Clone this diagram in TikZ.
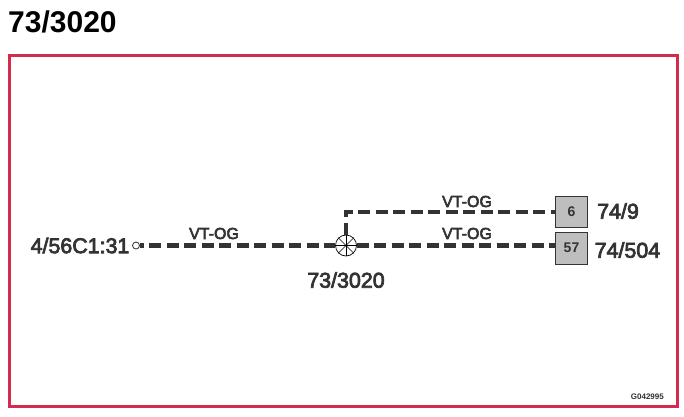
\documentclass[tikz,border=0pt]{standalone}
\usepackage{fontspec}
\setmainfont{Liberation Sans}
\newfontfamily\heavyfont[FakeBold=3.5]{Liberation Sans}
\usepackage{xcolor}
\usetikzlibrary{positioning}
\definecolor{framered}{HTML}{D22B50}
\definecolor{ink}{HTML}{333333}
\definecolor{boxgrey}{HTML}{BEBEBE}
\tikzset{
    wire/.style={ink, line width=4.5pt, dash pattern=on 12pt off 5.5pt},
    pinbox/.style={draw=ink, line width=1pt, fill=boxgrey, minimum width=32pt, minimum height=31pt, inner sep=0pt, font=\fontsize{14}{14}\selectfont\bfseries, text=ink},
    reflabel/.style={font=\fontsize{21.4}{21.4}\heavyfont, text=ink, inner sep=0pt},
    wirelabel/.style={font=\fontsize{16}{16}\heavyfont, text=ink, inner sep=0pt}
}
\begin{document}
\begin{tikzpicture}[x=1pt, y=1pt]
            \useasboundingbox (0,0) rectangle (684,-416);
            \fill[white] (0,0) rectangle (684,-416);

            \node[anchor=west, inner sep=0pt, font=\fontsize{30}{30}\selectfont\bfseries] (title) at (8,-22) {73/3020};
            \draw[framered, line width=3pt] (9,-55) rectangle (677,-406);

            \node[circle, draw=ink, line width=0.8pt, minimum size=7pt, inner sep=0pt] (term) at (136,-245.5) {};
            \node[circle, draw=black, line width=0.7pt, minimum size=21pt, inner sep=0pt] (splice) at (346,-245.5) {};
            \node[pinbox] (box6) at (571.5,-212) {6};
            \node[pinbox, minimum height=32pt] (box57) at (571.5,-248) {57};

            \draw[wire, dash phase=8pt] (term.east) -- (splice.west);
            \draw[wire] (splice.east) -- (splice.east -| box57.west);
            \draw[wire] (splice.north) |- (box6.west);

            \foreach \a in {0,45,...,315} {
                \draw[black, line width=0.6pt] (splice.center) -- (splice.\a);
            }

            \node[reflabel, left=2.5pt of term] (termlabel) {4/56C1:31};
            \node[reflabel] (splicelabel) at (346,-280) {73/3020};
            \node[reflabel, anchor=west] (label6) at (597,-211) {74/9};
            \node[reflabel, anchor=west] (label57) at (594.5,-250) {74/504};

            \node[wirelabel] (wire1) at (214,-233.5) {VT-OG};
            \node[wirelabel] (wire2) at (467,-201.5) {VT-OG};
            \node[wirelabel] (wire3) at (467,-233.5) {VT-OG};

            \node[anchor=east, inner sep=0pt, font=\fontsize{8}{8}\selectfont\bfseries, text=ink] (code) at (664,-397) {G042995};
        \end{tikzpicture}
\end{document}
